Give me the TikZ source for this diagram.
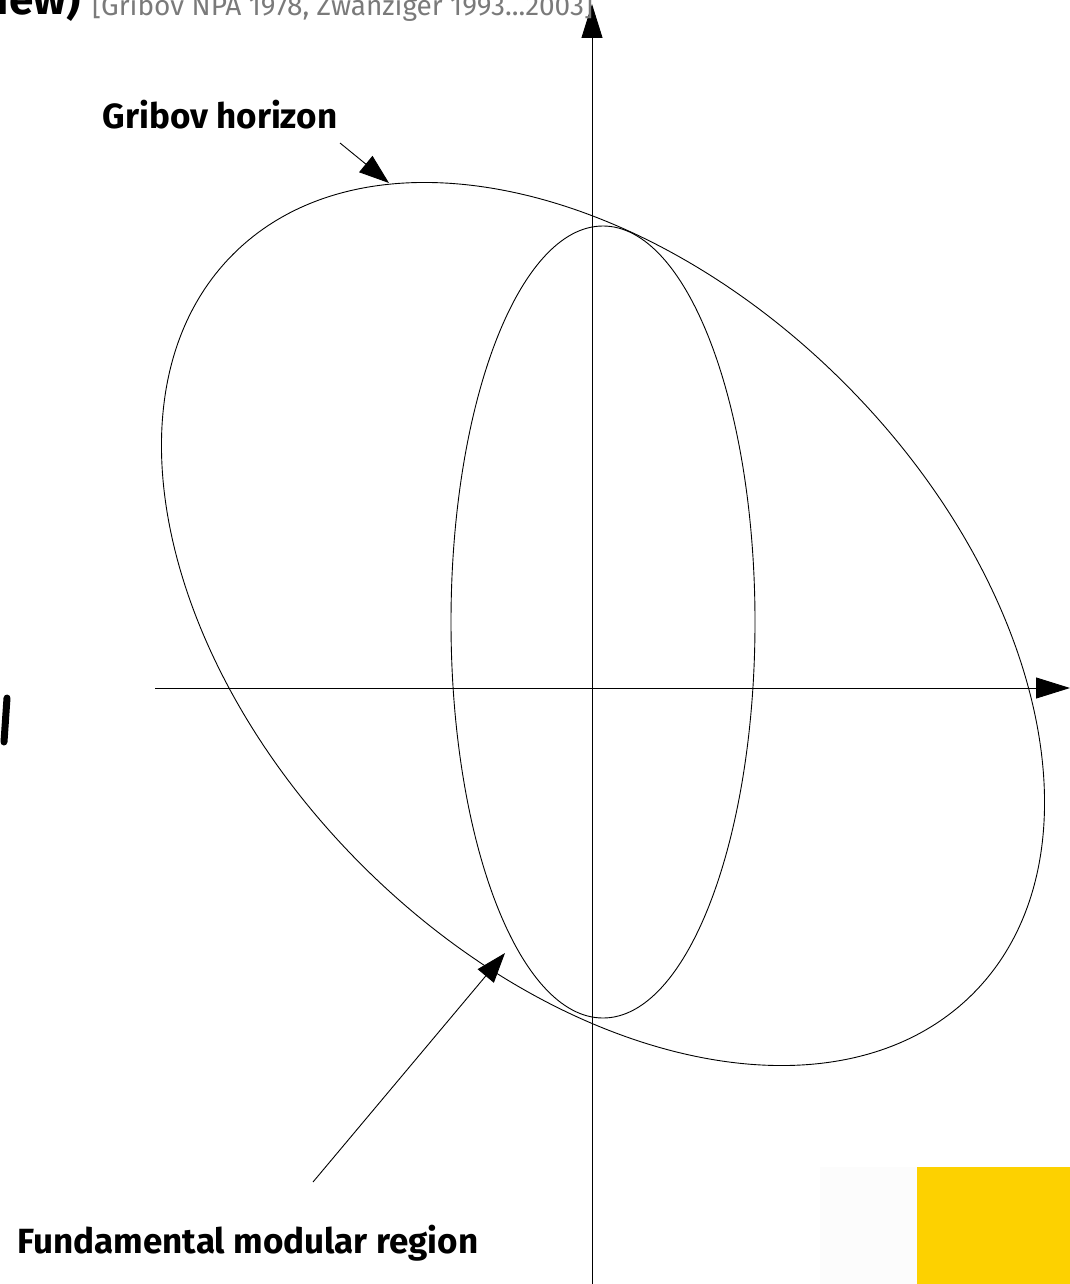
\documentclass[tikz,border=0pt]{standalone}
\usepackage{fontspec}
\setmainfont{Fira Sans}
\usetikzlibrary{arrows.meta}
\definecolor{refgray}{HTML}{7A7A7A}
\definecolor{refyellow}{HTML}{FDD100}
\definecolor{refwhite}{HTML}{FCFCFC}
\tikzset{
  curve/.style={line width=0.9pt, black},
  axis/.style={line width=0.9pt, black, -{Triangle[length=34pt,width=21pt]}},
  pointer/.style={line width=0.9pt, black, -{Triangle[length=30pt,width=21pt]}},
  label/.style={font=\fontsize{35}{40}\selectfont\bfseries, inner sep=0pt},
  cite/.style={font=\fontsize{28}{32}\selectfont, text=refgray, inner sep=0pt},
}
\begin{document}
\begin{tikzpicture}[x=1pt,y=-1pt]
\useasboundingbox (0,0) rectangle (1070,1284);
\clip (0,0) rectangle (1070,1284);
% bottom right blocks
\fill[refwhite] (820,1167) rectangle (917,1284);
\fill[refyellow] (917,1167) rectangle (1070,1284);
% axes
\coordinate (ybot) at (592,1284);
\coordinate (ytop) at (592,4);
\coordinate (xleft) at (155,688);
\coordinate (xright) at (1070,688);
\draw[axis] (ybot) -- (ytop);
\draw[axis] (xleft) -- (xright);
% Gribov horizon (tilted ellipse)
\draw[curve, rotate around={-45:(603,624)}] (603,624) ellipse (523 and 341);
% fundamental modular region (upright ellipse)
\draw[curve] (603,622) ellipse (152 and 396);
% titles
\node[label, anchor=base east, font=\fontsize{44}{48}\selectfont\bfseries] (title) at (81,15) {iew)};
\node[cite, anchor=base west] (cite) at (92,16) {[Gribov NPA 1978, Zwanziger 1993...2003]};
\draw[line width=7pt, line cap=round] (7,698) -- (4,742);
% labels
\node[label] (gh) at (220,115) {Gribov horizon};
\node[label] (fmr) at (248,1243) {Fundamental modular region};
\coordinate (ghs) at (340,143);
\coordinate (ght) at (389,183);
\coordinate (fms) at (313,1182);
\coordinate (fmt) at (505,953);
\draw[pointer] (ghs) -- (ght);
\draw[pointer] (fms) -- (fmt);
\end{tikzpicture}
\end{document}
